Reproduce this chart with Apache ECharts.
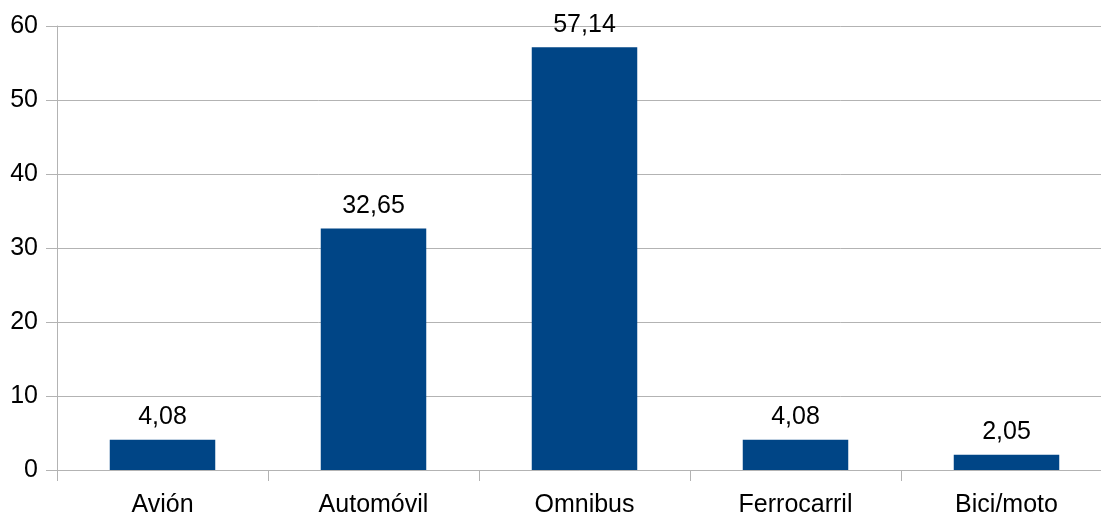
<!DOCTYPE html>
<html>
<head>
<meta charset="utf-8">
<script src="https://cdn.jsdelivr.net/npm/echarts@6/dist/echarts.min.js"></script>
<style>
html, body { margin: 0; padding: 0; background: #fff; }
#chart { width: 1101px; height: 518px; }
</style>
</head>
<body>
<div id="chart"></div>
<script>
// modos de transporte
var categories = ['Avión', 'Automóvil', 'Omnibus', 'Ferrocarril', 'Bici/moto'];
var values = [4.08, 32.65, 57.14, 4.08, 2.05];
var yTicks = [0, 10, 20, 30, 40, 50, 60];

var font = '"Liberation Sans", Arial, sans-serif';

var option = {
    backgroundColor: '#ffffff',
    animation: false,
    grid: {
        left: 57,
        width: 1055,
        top: 26,
        bottom: 48,
        outerBoundsMode: 'none'
    },
    xAxis: {
        type: 'category',
        data: categories,
        axisLine: { lineStyle: { color: '#b3b3b3', width: 1 } },
        axisTick: { show: true, length: 11, lineStyle: { color: '#b3b3b3' } },
        axisLabel: { color: '#000', fontSize: 25, fontFamily: font, margin: 23 }
    },
    yAxis: {
        type: 'value',
        min: yTicks[0],
        max: yTicks[yTicks.length - 1],
        interval: 10,
        axisLine: { show: true, lineStyle: { color: '#b3b3b3' } },
        axisTick: { show: true, length: 11, lineStyle: { color: '#b3b3b3' } },
        axisLabel: { color: '#000', fontSize: 25, fontFamily: font, margin: 19 },
        splitLine: { lineStyle: { color: '#b3b3b3' } }
    },
    series: [{
        type: 'bar',
        data: values,
        barWidth: '50%',
        itemStyle: { color: '#004586' },
        label: {
            show: true,
            position: 'top',
            distance: 10,
            color: '#000',
            fontSize: 25,
            fontFamily: font,
            formatter: function (p) {
                return p.value.toFixed(2).replace('.', ',');
            }
        }
    }]
};

var chart = echarts.init(document.getElementById('chart'));
chart.setOption(option);
</script>
</body>
</html>
